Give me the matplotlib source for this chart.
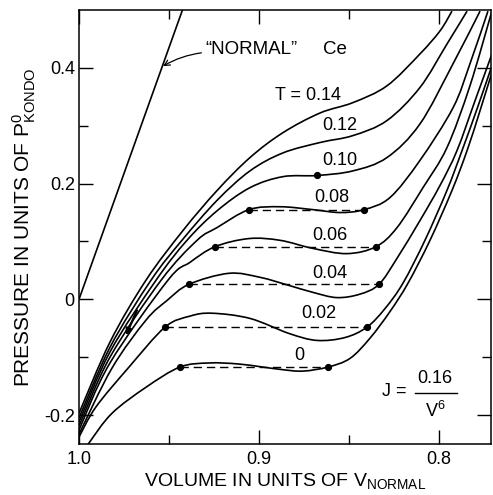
import matplotlib
matplotlib.use("Agg")
import matplotlib.pyplot as plt
from matplotlib.ticker import FixedLocator
from matplotlib.path import Path
from matplotlib.patches import PathPatch
import numpy as np

plt.rcParams['font.family'] = ['Liberation Sans', 'DejaVu Sans']
plt.rcParams['mathtext.fontset'] = 'custom'
plt.rcParams['mathtext.rm'] = 'Liberation Sans'

# ---- data (V in units of V_normal, P in units of P0_Kondo) ----
normal_V = [1.0, 0.94]
normal_P = [0.0, 0.522]

V_014 = [1.0, 0.9828, 0.9628, 0.9422, 0.9233, 0.9050, 0.8867, 0.8661, 0.8478, 0.8289, 0.8106, 0.7994, 0.7928]
P_014 = [-0.197, -0.074, 0.033, 0.119, 0.188, 0.245, 0.288, 0.322, 0.340, 0.369, 0.424, 0.464, 0.498]

V_012 = [1.0, 0.9828, 0.9600, 0.9428, 0.9233, 0.9050, 0.8867, 0.8661, 0.8478, 0.8289, 0.8106, 0.7956, 0.7844]
P_012 = [-0.205, -0.083, 0.033, 0.102, 0.171, 0.222, 0.253, 0.271, 0.283, 0.309, 0.366, 0.441, 0.498]

V_010 = [1.0, 0.9828, 0.9572, 0.9400, 0.9233, 0.9050, 0.8867, 0.8678, 0.8478, 0.8289, 0.8106, 0.7922, 0.7772]
P_010 = [-0.212, -0.091, 0.033, 0.102, 0.153, 0.193, 0.212, 0.214, 0.222, 0.245, 0.303, 0.407, 0.498]

V_008 = [1.0, 0.9828, 0.9544, 0.9344, 0.9233, 0.9056, 0.8883, 0.8700, 0.8550, 0.8417, 0.8272, 0.8106, 0.7922, 0.7828, 0.7728]
P_008 = [-0.219, -0.100, 0.033, 0.102, 0.124, 0.155, 0.160, 0.155, 0.150, 0.155, 0.176, 0.240, 0.331, 0.407, 0.498]

V_006 = [1.0, 0.9828, 0.9506, 0.9383, 0.9244, 0.9056, 0.8883, 0.8700, 0.8511, 0.8350, 0.8233, 0.8089, 0.7956, 0.7828, 0.7706]
P_006 = [-0.226, -0.110, 0.033, 0.064, 0.091, 0.105, 0.102, 0.088, 0.079, 0.091, 0.124, 0.193, 0.262, 0.369, 0.498]

V_004 = [1.0, 0.9817, 0.9628, 0.9511, 0.9389, 0.9167, 0.8994, 0.8833, 0.8700, 0.8567, 0.8439, 0.8333, 0.8233, 0.8106, 0.7994, 0.7900, 0.7800, 0.7700]
P_004 = [-0.233, -0.119, -0.036, -0.002, 0.026, 0.045, 0.038, 0.024, 0.012, 0.003, 0.009, 0.026, 0.071, 0.136, 0.197, 0.257, 0.343, 0.429]

V_002 = [1.0, 0.9906, 0.9722, 0.9522, 0.9383, 0.9261, 0.9050, 0.8833, 0.8678, 0.8522, 0.8400, 0.8300, 0.8200, 0.8078, 0.7956, 0.7872, 0.7783, 0.7700]
P_002 = [-0.238, -0.186, -0.117, -0.048, -0.029, -0.024, -0.033, -0.059, -0.071, -0.066, -0.048, -0.016, 0.028, 0.102, 0.188, 0.257, 0.334, 0.409]

V_000 = [1.0, 0.9944, 0.9817, 0.9628, 0.9439, 0.9278, 0.9106, 0.8883, 0.8756, 0.8617, 0.8494, 0.8383, 0.8272, 0.8172, 0.8050, 0.7928, 0.7844, 0.7772, 0.7700]
P_000 = [-0.274, -0.248, -0.197, -0.152, -0.117, -0.110, -0.112, -0.121, -0.124, -0.117, -0.102, -0.067, -0.021, 0.028, 0.102, 0.188, 0.257, 0.326, 0.398]

curves = [(V_014, P_014), (V_012, P_012), (V_010, P_010), (V_008, P_008),
          (V_006, P_006), (V_004, P_004), (V_002, P_002), (V_000, P_000)]

# Maxwell tie lines: pressure, left volume, right volume
tie_P = [-0.117, -0.048, 0.026, 0.091, 0.155]
tie_V1 = [0.9439, 0.9522, 0.9389, 0.9244, 0.9056]
tie_V2 = [0.8617, 0.8400, 0.8333, 0.8350, 0.8417]
crit_V = [0.8678]
crit_P = [0.214]

T_labels = ["T = 0.14", "0.12", "0.10", "0.08", "0.06", "0.04", "0.02", "0"]
T_label_V = [0.8728, 0.8550, 0.8550, 0.8594, 0.8606, 0.8606, 0.8667, 0.8778]
T_label_P = [0.352, 0.300, 0.240, 0.176, 0.110, 0.045, -0.024, -0.097]

x_major = [1.0, 0.9, 0.8]
x_minor = [0.95, 0.85]
x_ticklabels = ["1.0", "0.9", "0.8"]
y_major = [-0.2, 0.0, 0.2, 0.4]
y_minor = [-0.1, 0.1, 0.3]
y_ticklabels = ["-0.2", "0", "0.2", "0.4"]


def smooth_path(xs, ys):
    """Cubic Bezier path through the read points (Catmull-Rom tangents)."""
    pts = np.column_stack([xs, ys]).astype(float)
    n = len(pts)
    verts = [pts[0]]
    codes = [Path.MOVETO]
    for i in range(n - 1):
        p0 = pts[i - 1] if i > 0 else pts[i]
        p1 = pts[i]
        p2 = pts[i + 1]
        p3 = pts[i + 2] if i + 2 < n else pts[i + 1]
        verts += [p1 + (p2 - p0) / 6.0, p2 - (p3 - p1) / 6.0, p2]
        codes += [Path.CURVE4] * 3
    return Path(verts, codes)


# ---- figure ----
W, H = 493, 495
fig = plt.figure(figsize=(W / 100, H / 100), dpi=100)
ax = fig.add_axes([79 / W, 51 / H, 412 / W, 434 / H])
ax.set_xlim(1.0, 0.7711)
ax.set_ylim(-0.25, 0.5)

lw = 1.2
ax.plot(normal_V, normal_P, color='black', lw=lw, solid_capstyle='butt')
for V, P in curves:
    ax.add_patch(PathPatch(smooth_path(V, P), facecolor='none', edgecolor='black',
                           lw=lw, transform=ax.transData))

for p, v1, v2 in zip(tie_P, tie_V1, tie_V2):
    ax.plot([v1, v2], [p, p], color='black', lw=1.0, dashes=(6, 3.5))
    ax.plot([v1, v2], [p, p], 'o', color='black', ms=4.2)
ax.plot(crit_V, crit_P, 'o', color='black', ms=4.2)

fs = 13
for s, v, p in zip(T_labels, T_label_V, T_label_P):
    ax.text(v, p, s, ha='center', va='center', fontsize=fs)

ax.text(0.930, 0.431, "\u201cNORMAL\u201d", ha='left', va='center', fontsize=13.5)
ax.text(0.8644, 0.431, "Ce", ha='left', va='center', fontsize=13.5)
ax.annotate("", xy=(0.9533, 0.403), xytext=(0.9320, 0.426),
            arrowprops=dict(arrowstyle='->', color='black', lw=0.9,
                            connectionstyle='arc3,rad=0.1', shrinkA=0, shrinkB=0))
ax.annotate("", xy=(0.9739, -0.062), xytext=(0.9678, -0.019),
            arrowprops=dict(arrowstyle='-|>', color='black', lw=1.6,
                            mutation_scale=9, shrinkA=0, shrinkB=0))

ax.text(0.8250, -0.160, "J =", ha='center', va='center', fontsize=fs)
ax.text(0.8022, -0.136, "0.16", ha='center', va='center', fontsize=fs)
ax.plot([0.8133, 0.7900], [-0.162, -0.162], color='black', lw=1.0)
ax.text(0.8022, -0.193, "V$\\mathregular{^6}$", ha='center', va='center', fontsize=fs)

ax.xaxis.set_major_locator(FixedLocator(x_major))
ax.xaxis.set_minor_locator(FixedLocator(x_minor))
ax.set_xticklabels(x_ticklabels)
ax.yaxis.set_major_locator(FixedLocator(y_major))
ax.yaxis.set_minor_locator(FixedLocator(y_minor))
ax.set_yticklabels(y_ticklabels)

ax.tick_params(which='both', direction='in', top=True, right=True, width=1.0)
ax.tick_params(which='major', length=10, labelsize=fs)
ax.tick_params(which='minor', length=6.5)
ax.tick_params(axis='x', pad=5)
ax.tick_params(axis='y', pad=3)
for sp in ax.spines.values():
    sp.set_linewidth(1.1)

ax.set_xlabel("VOLUME IN UNITS OF V$\\mathregular{_{NORMAL}}$", fontsize=14, labelpad=2)
ax.set_ylabel("PRESSURE IN UNITS OF $\\mathregular{P^0_{KONDO}}$", fontsize=15, labelpad=4)

fig.savefig("out.png", dpi=100)
